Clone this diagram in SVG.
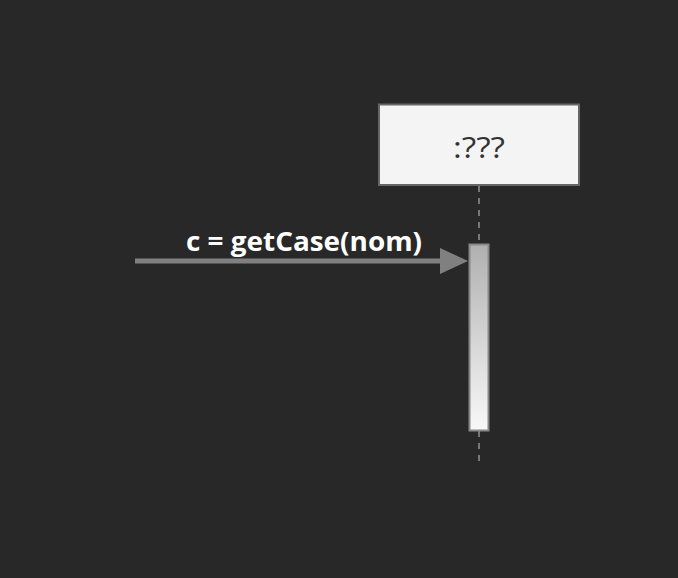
<svg xmlns="http://www.w3.org/2000/svg" width="678" height="578" viewBox="0 0 678 578">
<style>
.lbl{font-family:"Comic Sans MS","Open Sans","DejaVu Sans",sans-serif;}
.life{stroke:#777;stroke-width:2;stroke-dasharray:6 6;fill:none}
</style>
<defs>
<linearGradient id="act" x1="0" y1="0" x2="0" y2="1">
<stop offset="0" stop-color="#b0b0b0"/>
<stop offset="1" stop-color="#f8f8f8"/>
</linearGradient>
</defs>
<rect width="678" height="578" fill="#282828"/>
<g id="lifeline">
<line class="life" x1="479" y1="186" x2="479" y2="244"/>
<line class="life" x1="479" y1="431" x2="479" y2="464"/>
</g>
<g id="participant">
<rect x="379" y="104.5" width="200" height="80.5" fill="#f4f4f4" stroke="#666" stroke-width="2"/>
<text class="lbl" x="479" y="158" font-size="30" fill="#333" text-anchor="middle" textLength="52" lengthAdjust="spacingAndGlyphs">:???</text>
</g>
<g id="activation">
<rect x="469.5" y="244.5" width="19" height="186" fill="url(#act)" stroke="#888" stroke-width="2"/>
</g>
<g id="connectors">
<line x1="135" y1="261" x2="442" y2="261" stroke="#808080" stroke-width="5"/>
<polygon points="440,248 468,261 440,274" fill="#808080"/>
<text class="lbl" x="304" y="251" font-size="27" font-weight="bold" fill="#ffffff" text-anchor="middle" textLength="236" lengthAdjust="spacingAndGlyphs">c = getCase(nom)</text>
</g>
</svg>
